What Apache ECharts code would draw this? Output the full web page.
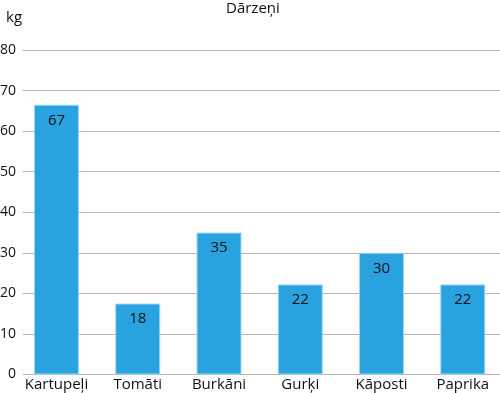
<!DOCTYPE html>
<html>
<head>
<meta charset="utf-8">
<script src="https://cdn.jsdelivr.net/npm/echarts@6/dist/echarts.min.js"></script>
<style>html,body{margin:0;padding:0;background:#fff}#c{width:500px;height:393px}</style>
</head>
<body>
<div id="c"></div>
<script>
var categories = ["Kartupeļi", "Tomāti", "Burkāni", "Gurķi", "Kāposti", "Paprika"];
var values = [66.5, 17.5, 35, 22.2, 30, 22.2];
var yTicks = [0, 10, 20, 30, 40, 50, 60, 70, 80];

var chart = echarts.init(document.getElementById('c'), null, {renderer: 'canvas'});
var font = '"Open Sans", "Noto Sans", sans-serif';
chart.setOption({
  animation: false,
  title: [{
    text: 'Dārzeņi', left: 221, top: -4,
    textStyle: {fontFamily: font, fontSize: 15, fontWeight: 'normal', color: '#111'}
  }, {
    text: 'kg', left: 1, top: 5,
    textStyle: {fontFamily: font, fontSize: 15, fontWeight: 'normal', color: '#111'}
  }],
  grid: {left: 23, right: 0, top: 50, bottom: 18.5, containLabel: false, outerBoundsMode: 'none'},
  xAxis: {
    type: 'value', min: -0.412, max: 5.458,
    axisLine: {show: false}, axisTick: {show: false}, splitLine: {show: false},
    axisLabel: {
      customValues: [0, 1, 2, 3, 4, 5],
      formatter: function (v) { return categories[Math.round(v)]; },
      fontFamily: font, fontSize: 15, color: '#111', margin: 3
    }
  },
  yAxis: {
    type: 'value', min: yTicks[0], max: yTicks[yTicks.length - 1], interval: 10,
    axisLine: {show: false}, axisTick: {show: false},
    axisLabel: {fontFamily: font, fontSize: 14, color: '#111', margin: 7},
    splitLine: {lineStyle: {color: '#b3b3b3', width: 1}}
  },
  series: [{
    type: 'bar',
    data: values.map(function (v, i) { return [i, v]; }),
    barWidth: 45,
    itemStyle: {color: '#29a3df', borderColor: '#9fd6f1', borderWidth: 1},
    label: {
      show: true, position: 'insideTop', distance: 8,
      formatter: function (p) { return Math.round(p.value[1]); },
      fontFamily: font, fontSize: 15, color: '#111'
    }
  }]
});
</script>
</body>
</html>
